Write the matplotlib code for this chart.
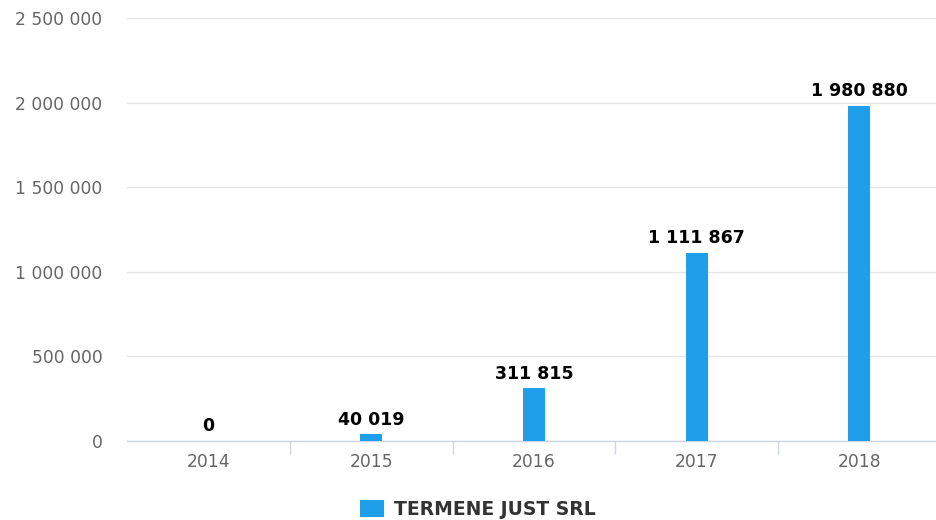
import matplotlib.pyplot as plt
import numpy as np
from matplotlib.ticker import FuncFormatter, FixedLocator
from matplotlib.patches import Patch

plt.rcParams['font.family'] = ['DejaVu Sans']

years = ['2014', '2015', '2016', '2017', '2018']
values = [0, 40019, 311815, 1111867, 1980880]
series_name = 'TERMENE JUST SRL'

bar_color = '#1f9fe9'


def fmt(v, pos=None):
    return '{:,}'.format(int(v)).replace(',', ' ')


fig = plt.figure(figsize=(9.37, 5.2), dpi=100)
ax = fig.add_axes([0.1359, 0.152, 0.868, 0.8134])

x = np.arange(len(years))
bars = ax.bar(x, values, width=0.135, color=bar_color, zorder=3)

for xi, v in zip(x, values):
    ax.annotate(fmt(v), (xi, v), xytext=(0, 4), textcoords='offset points',
                ha='center', va='bottom', fontsize=12.5, fontweight='bold',
                color='black', zorder=4)

ax.set_xlim(-0.5, len(years) - 0.5)
ax.set_ylim(0, 2500000)
ax.set_yticks(np.arange(0, 2500001, 500000))
ax.yaxis.set_major_formatter(FuncFormatter(fmt))
ax.set_xticks(x)
ax.set_xticklabels(years)
ax.xaxis.set_minor_locator(FixedLocator(np.arange(0.5, len(years) - 0.5, 1)))

ax.grid(axis='y', color='#e6e6e6', linewidth=1, zorder=0)
for s in ['top', 'right', 'left']:
    ax.spines[s].set_visible(False)
ax.spines['bottom'].set_color('#ccd6eb')
ax.spines['bottom'].set_linewidth(1)

ax.tick_params(axis='y', length=0, pad=18, labelsize=12.3, labelcolor='#666666')
ax.tick_params(axis='x', which='major', length=0, pad=9, labelsize=12.3,
               labelcolor='#666666')
ax.tick_params(axis='x', which='minor', length=9.5, width=1, color='#ccd6eb')

handle = Patch(facecolor=bar_color, edgecolor='none')
fig.legend([handle], [series_name], loc='lower center',
           bbox_to_anchor=(0.51, -0.03), frameon=False,
           prop={'size': 13.5, 'weight': 'bold'}, labelcolor='#333333',
           handlelength=1.25, handleheight=1.0, handletextpad=0.55)

fig.savefig('out.png', dpi=100)
